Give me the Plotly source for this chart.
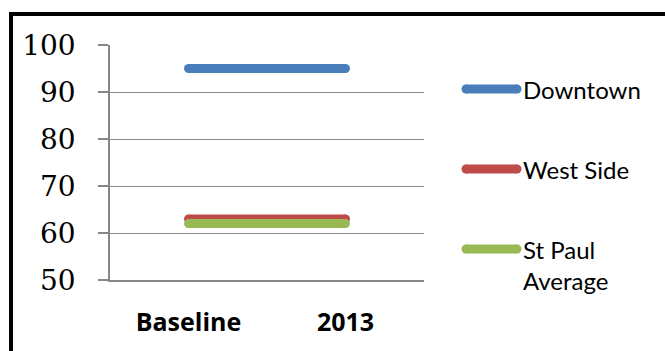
import plotly.graph_objects as go

# ---- data ----
categories = ["Baseline", "2013"]
series_names = ["Downtown", "West Side", "St Paul<br>Average"]
downtown = [95, 95]
west_side = [63, 63]
st_paul_avg = [62, 62]
y_ticks = [50, 60, 70, 80, 90, 100]

colors = ["#4a7ebb", "#be4b48", "#98b954"]
values = [downtown, west_side, st_paul_avg]

FIG_W, FIG_H = 665, 351
L, R, T, B = 110, 424, 45, 280  # plot area in pixels


def px_x(px):
    return (px - L) / (R - L)


def px_y(py):
    return (B - py) / (B - T)


fig = go.Figure()
for name, vals, col in zip(series_names, values, colors):
    fig.add_trace(go.Scatter(
        x=categories, y=vals, name=name.replace("<br>", " "),
        mode="lines+markers",
        line=dict(color=col, width=9),
        marker=dict(color=col, size=9),
        showlegend=False, hoverinfo="skip",
    ))

shapes = []
annotations = []
# outer frame: left edge and top edge only
fx, fy = px_x(11), px_y(14)
shapes.append(dict(type="line", xref="paper", yref="paper",
                   x0=fx, x1=fx, y0=px_y(360), y1=px_y(12),
                   line=dict(color="black", width=4)))
shapes.append(dict(type="line", xref="paper", yref="paper",
                   x0=px_x(9), x1=px_x(665), y0=fy, y1=fy,
                   line=dict(color="black", width=4)))

# custom legend
legend_y = [89, 169, 249]
for name, col, ly in zip(series_names, colors, legend_y):
    shapes.append(dict(type="line", xref="paper", yref="paper",
                       x0=px_x(466), x1=px_x(517), y0=px_y(ly), y1=px_y(ly),
                       line=dict(color=col, width=9)))
    for cx in (466, 517):
        shapes.append(dict(type="circle", xref="paper", yref="paper",
                           xsizemode="pixel", ysizemode="pixel",
                           xanchor=px_x(cx), yanchor=px_y(ly),
                           x0=-4.5, x1=4.5, y0=-4.5, y1=4.5,
                           fillcolor=col, line=dict(width=0)))
    annotations.append(dict(xref="paper", yref="paper", x=px_x(521),
                            y=px_y(ly - 16), xanchor="left", yanchor="top",
                            text=name, showarrow=False, align="left",
                            font=dict(family="Lato", size=24, color="black")))

fig.update_layout(
    width=FIG_W, height=FIG_H,
    margin=dict(l=L, r=FIG_W - R, t=T, b=FIG_H - B, pad=0),
    paper_bgcolor="white", plot_bgcolor="white",
    shapes=shapes, annotations=annotations,
    showlegend=False,
    xaxis=dict(type="category", range=[-0.5, 1.5], showgrid=False,
               showline=True, linecolor="#868686", linewidth=1.5,
               ticks="", ticklabelstandoff=19,
               tickfont=dict(family="Open Sans", size=25, color="black",
                             weight="bold")),
    yaxis=dict(range=[50, 100], tickvals=y_ticks, showgrid=True,
               gridcolor="#8c8c8c", gridwidth=1,
               showline=True, linecolor="#868686", linewidth=1.5,
               ticks="outside", ticklen=10, tickcolor="#868686", tickwidth=1.5,
               ticklabelstandoff=17, zeroline=False,
               tickfont=dict(family="DejaVu Serif", size=28, color="black")),
)

fig.write_html("out.html")
